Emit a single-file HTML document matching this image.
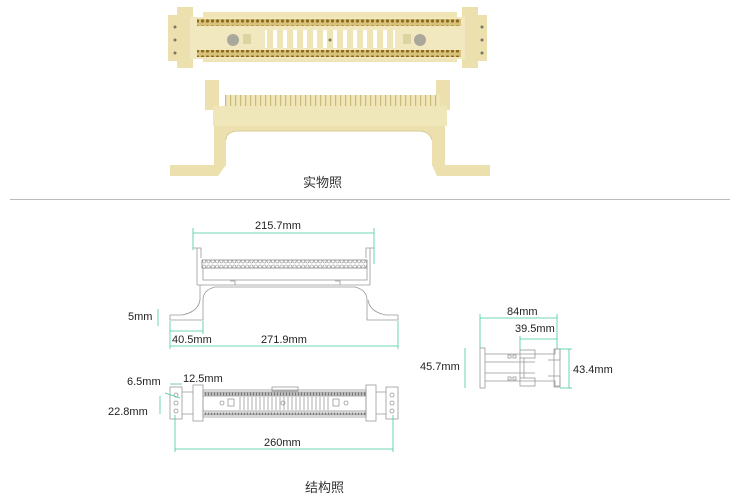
<!DOCTYPE html>
<html><head><meta charset="utf-8"><style>
html,body{margin:0;padding:0;background:#fff;width:732px;height:500px;overflow:hidden}
svg{display:block}
text{font-family:"Liberation Sans",sans-serif;font-size:11px;fill:#222}
.cj{font-family:"Liberation Sans","Noto Sans CJK SC",sans-serif;font-size:13px;fill:#333}
.d{stroke:#999;stroke-width:0.8;fill:none}
.g{stroke:#4c9;stroke-width:0.8;fill:none}
</style></head><body>
<svg width="732" height="500" viewBox="0 0 732 500">
<defs>
<pattern id="pins" width="5" height="6" patternUnits="userSpaceOnUse">
<rect width="5" height="6" fill="#d8c27a"/><circle cx="2.5" cy="3" r="1.6" fill="#8a6a20"/>
</pattern>
<pattern id="slots" width="10" height="20" patternUnits="userSpaceOnUse">
<rect width="10" height="20" fill="#eee4b4"/><rect x="3" y="0" width="4" height="20" fill="#fff"/>
</pattern>
<pattern id="teeth" width="5" height="10" patternUnits="userSpaceOnUse">
<rect width="5" height="10" fill="#f0e6b8"/><rect x="0" y="0" width="1.2" height="10" fill="#c9b97a"/>
</pattern>
<pattern id="dteeth" width="4.3" height="8" patternUnits="userSpaceOnUse">
<rect width="4.3" height="8" fill="#fff"/><rect x="0.5" y="1" width="3.2" height="6" rx="1.5" fill="none" stroke="#888" stroke-width="0.6"/>
</pattern>
<pattern id="dpins" width="3" height="4" patternUnits="userSpaceOnUse">
<rect width="3" height="4" fill="#fff"/><rect x="0.5" y="0.5" width="2" height="3" fill="#777"/>
</pattern>
</defs>

<g>
<rect x="203" y="12" width="254" height="50" fill="#eee4b4"/>
<rect x="177" y="7" width="16" height="61" fill="#ebe0ae"/>
<rect x="462" y="7" width="16" height="61" fill="#ebe0ae"/>
<rect x="168" y="15" width="12" height="46" fill="#ebe0ae"/>
<rect x="475" y="15" width="12" height="46" fill="#ebe0ae"/>
<rect x="190" y="17" width="275" height="42" fill="#f1e8c0"/>
<rect x="197" y="19" width="264" height="7" fill="url(#pins)"/>
<rect x="197" y="50" width="264" height="7" fill="url(#pins)"/>
<rect x="265" y="30" width="130" height="18" fill="url(#slots)"/>
<circle cx="233" cy="40" r="6" fill="#a9a89a"/><circle cx="420" cy="40" r="6" fill="#a9a89a"/>
<rect x="243" y="34" width="8" height="10" fill="#ddd3a0"/><rect x="403" y="34" width="8" height="10" fill="#ddd3a0"/>
<circle cx="330" cy="40" r="1.5" fill="#776"/>
<circle cx="175" cy="27" r="1.5" fill="#776"/><circle cx="175" cy="40" r="1.5" fill="#776"/><circle cx="175" cy="53" r="1.5" fill="#776"/>
<circle cx="482" cy="27" r="1.5" fill="#776"/><circle cx="482" cy="40" r="1.5" fill="#776"/><circle cx="482" cy="53" r="1.5" fill="#776"/>
</g>
<g>
<rect x="205" y="80" width="14" height="30" fill="#ebe0ae"/>
<rect x="436" y="80" width="14" height="30" fill="#ebe0ae"/>
<rect x="225" y="95" width="215" height="13" fill="url(#teeth)"/>
<rect x="213" y="106" width="234" height="20" fill="#efe6ba"/>
<path d="M214 126 H445 V160 L445 165 H490 V176 H437 L432 165 V140 Q430 132 420 131 H237 Q226 132 226 140 V165 L218 176 H170 V165 H214 Z" fill="#ebe0ae"/>
<path d="M226 140 Q226 132 237 131 H420 Q430 132 432 140" fill="none" stroke="#d8cb98"/>
</g>
<text x="303" y="187" class="cj">实物照</text>
<line x1="10" y1="199.5" x2="730" y2="199.5" stroke="#bbb" stroke-width="1"/>

<g class="d">
<path d="M193 248 H201 V258 M374 248 H366 V258"/>
<path d="M197 248 V285 M370 248 V285"/>
<rect x="202" y="260" width="165" height="8" fill="url(#dteeth)" stroke="#888"/>
<rect x="203" y="268" width="164" height="12"/>
<path d="M197 285 H370"/>
<path d="M200 285 V300 Q198 312 182 315 H170 V320 H203 V300 Q203 290 215 287 H355 Q367 290 367 300 V320 H398 V315 H386 Q370 312 368 300"/>
<path d="M230 281 H235 V285 M335 281 H340 V285"/>
</g>
<g class="g">
<line x1="193" y1="233" x2="374" y2="233"/>
<line x1="193" y1="228" x2="193" y2="250"/><line x1="374" y1="228" x2="374" y2="264"/>
<line x1="158" y1="309" x2="158" y2="326"/>
<line x1="170" y1="331" x2="203" y2="331"/>
<line x1="170" y1="346" x2="398" y2="346"/>
<line x1="170" y1="321" x2="170" y2="349"/><line x1="398" y1="321" x2="398" y2="349"/>
<line x1="203" y1="321" x2="203" y2="334"/>
</g>
<text x="255" y="229">215.7mm</text>
<text x="128" y="320">5mm</text>
<text x="172" y="343">40.5mm</text>
<text x="261" y="343">271.9mm</text>

<g class="d">
<rect x="170" y="387" width="12" height="32"/>
<rect x="386" y="387" width="12" height="32"/>
<rect x="193" y="385" width="10" height="36"/><rect x="366" y="385" width="10" height="36"/>
<path d="M182 392 H193 M182 414 H193 M376 392 H386 M376 414 H386"/>
<rect x="203" y="390" width="163" height="27"/>
<rect x="203" y="392" width="163" height="4" fill="url(#dpins)"/>
<rect x="203" y="411" width="163" height="4" fill="url(#dpins)"/>
<rect x="272" y="387" width="26" height="4"/>
<path d="M240 397 V410 M244 397 V410 M248 397 V410 M252 397 V410 M256 397 V410 M260 397 V410 M264 397 V410 M268 397 V410 M272 397 V410 M276 397 V410 M280 397 V410 M284 397 V410 M288 397 V410 M292 397 V410 M296 397 V410 M300 397 V410 M304 397 V410 M308 397 V410 M312 397 V410 M316 397 V410 M320 397 V410 M324 397 V410 M328 397 V410"/>
<circle cx="176" cy="395" r="2"/><circle cx="176" cy="403" r="2"/><circle cx="176" cy="411" r="2"/>
<circle cx="392" cy="395" r="2"/><circle cx="392" cy="403" r="2"/><circle cx="392" cy="411" r="2"/>
<rect x="228" y="399" width="6" height="7"/><rect x="333" y="399" width="6" height="7"/>
<circle cx="222" cy="403" r="2"/><circle cx="283" cy="403" r="2"/><circle cx="346" cy="403" r="2"/>
</g>
<g class="g">
<line x1="170" y1="384" x2="182" y2="384"/>
<line x1="160" y1="396" x2="160" y2="414"/>
<line x1="165" y1="393" x2="180" y2="398"/>
<line x1="175" y1="449" x2="393" y2="449"/>
<line x1="175" y1="415" x2="175" y2="452"/><line x1="393" y1="415" x2="393" y2="452"/>
</g>
<text x="127" y="385">6.5mm</text>
<text x="183" y="382">12.5mm</text>
<text x="108" y="415">22.8mm</text>
<text x="264" y="446">260mm</text>

<g class="d">
<rect x="480" y="348" width="5" height="40"/>
<path d="M485 354 H535 M485 362 H535 M485 373 H535 M485 381 H535"/>
<rect x="508" y="355" width="3" height="3"/><rect x="513" y="355" width="3" height="3"/>
<rect x="508" y="377" width="3" height="3"/><rect x="513" y="377" width="3" height="3"/>
<rect x="520" y="350" width="15" height="8"/><rect x="520" y="378" width="15" height="8"/>
<path d="M520 358 V378 M524 358 V378 M535 354 H555 V349 H560 V360 H548 M535 381 H555 V386 H560 V376 H548"/>
<rect x="554" y="349" width="6" height="38"/>
</g>
<g class="g">
<line x1="480" y1="318" x2="557" y2="318"/>
<line x1="480" y1="314" x2="480" y2="348"/><line x1="557" y1="314" x2="557" y2="349"/>
<line x1="520" y1="339" x2="557" y2="339"/>
<line x1="520" y1="336" x2="520" y2="350"/>
<line x1="465" y1="348" x2="465" y2="388"/>
<line x1="569" y1="349" x2="569" y2="388"/>
<line x1="560" y1="349" x2="572" y2="349"/><line x1="560" y1="388" x2="572" y2="388"/>
</g>
<text x="507" y="315">84mm</text>
<text x="515" y="332">39.5mm</text>
<text x="420" y="370">45.7mm</text>
<text x="573" y="373">43.4mm</text>

<text x="305" y="492" class="cj">结构照</text>
</svg>
</body></html>
